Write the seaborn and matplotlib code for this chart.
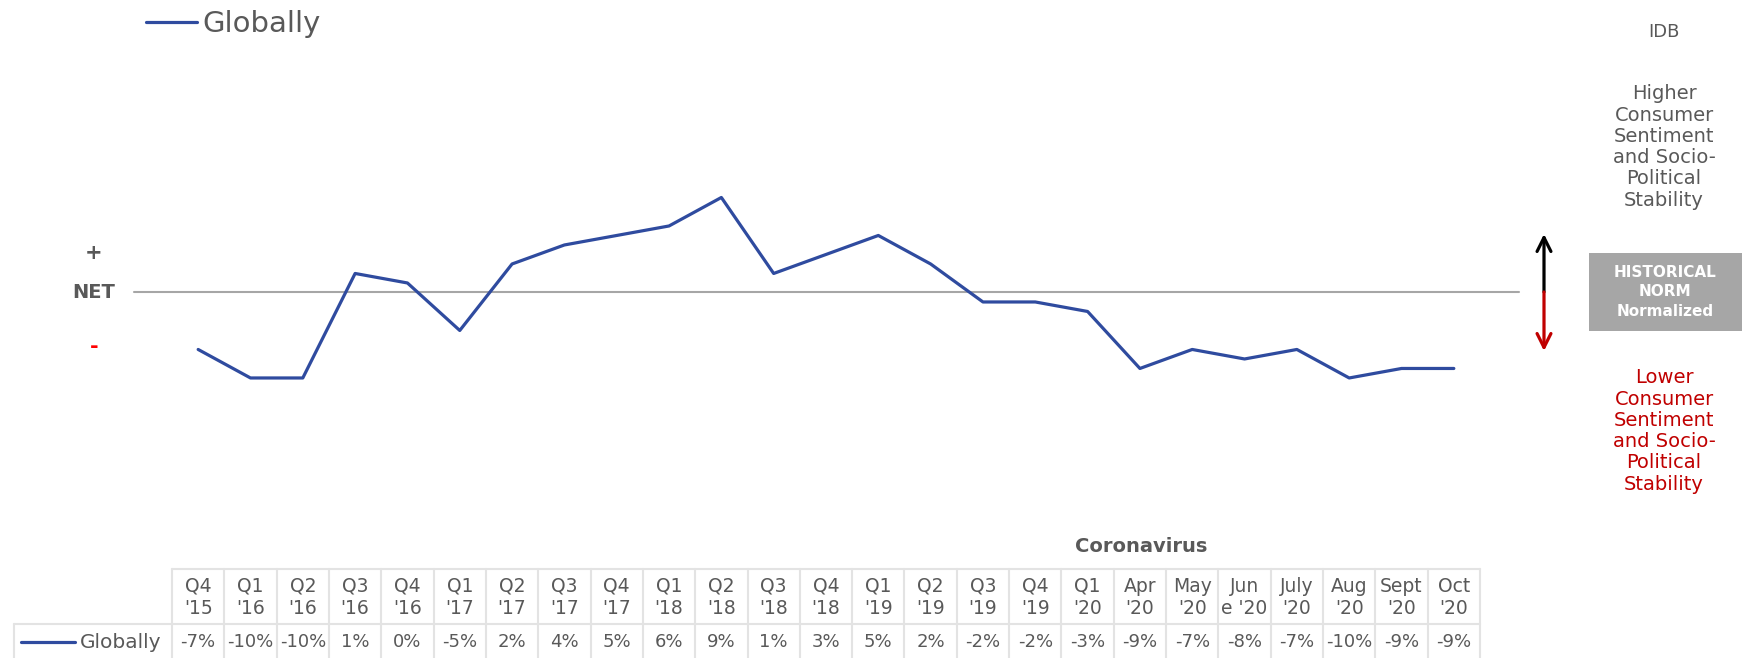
import pandas as pd
import seaborn as sns
import numpy as np
import matplotlib.pyplot as plt
from matplotlib.patches import Rectangle

# data
periods = ["Q4\n'15", "Q1\n'16", "Q2\n'16", "Q3\n'16", "Q4\n'16", "Q1\n'17", "Q2\n'17",
           "Q3\n'17", "Q4\n'17", "Q1\n'18", "Q2\n'18", "Q3\n'18", "Q4\n'18", "Q1\n'19",
           "Q2\n'19", "Q3\n'19", "Q4\n'19", "Q1\n'20", "Apr\n'20", "May\n'20", "Jun\ne '20",
           "July\n'20", "Aug\n'20", "Sept\n'20", "Oct\n'20"]
globally = [-7, -10, -10, 1, 0, -5, 2, 4, 5, 6, 9, 1, 3, 5, 2, -2, -2, -3, -9, -7, -8, -7, -10, -9, -9]
norm_level = -1

df = pd.DataFrame({"pos": np.arange(len(periods)), "Globally": globally})

sns.set_style("white")
plt.rcParams['font.family'] = ['DejaVu Sans']

W, H = 1742, 658
fig = plt.figure(figsize=(W / 100, H / 100), dpi=100)

blue = "#2F4B9F"
grey_txt = "#595959"
red = "#C00000"

# main chart area
ax = fig.add_axes([172 / W, (H - 480) / H, 1308 / W, 380 / H])
sns.lineplot(data=df, x="pos", y="Globally", ax=ax, color=blue, linewidth=2.3, label="Globally")
ax.set_xlim(-0.5, 24.5)
ax.set_ylim(-20.74, 19.26)
ax.axis("off")
ax.get_legend().remove()

# historical norm line
ax.plot([-1.22, 25.24], [norm_level, norm_level], color="#A6A6A6", linewidth=1.5, clip_on=False, zorder=1)

# + / NET / - labels
fig.text(94 / W, 1 - 253 / H, "+", ha="center", va="center", fontsize=15, color=grey_txt, fontweight="bold")
fig.text(94 / W, 1 - 292 / H, "NET", ha="center", va="center", fontsize=14, color=grey_txt, fontweight="bold")
fig.text(94 / W, 1 - 347 / H, "-", ha="center", va="center", fontsize=15, color="red", fontweight="bold")

# top legend
handles, labels = ax.get_lines()[:1], ["Globally"]
fig.legend(handles, labels, loc="upper left", bbox_to_anchor=(146 / W, 1 - 10 / H),
           frameon=False, fontsize=21, handlelength=1.75, handletextpad=0.2,
           borderpad=0, borderaxespad=0, labelcolor=grey_txt)

# right side annotations
xc = 1664 / W
fig.text(xc, 1 - 32 / H, "IDB", ha="center", va="center", fontsize=13, color=grey_txt)
fig.text(xc, 1 - 147 / H, "Higher\nConsumer\nSentiment\nand Socio-\nPolitical\nStability",
         ha="center", va="center", fontsize=14, color=grey_txt, linespacing=1.15)
fig.text(xc, 1 - 431 / H, "Lower\nConsumer\nSentiment\nand Socio-\nPolitical\nStability",
         ha="center", va="center", fontsize=14, color=red, linespacing=1.15)
fig.patches.append(Rectangle((1589 / W, 1 - 331 / H), 153 / W, 78 / H,
                             transform=fig.transFigure, facecolor="#A6A6A6", edgecolor="none"))
fig.text(1665 / W, 1 - 292 / H, "HISTORICAL\nNORM\nNormalized", ha="center", va="center",
         fontsize=11, color="white", fontweight="bold", linespacing=1.4)

# up / down arrows
ax.annotate("", xy=(1544, H - 234), xytext=(1544, H - 292), xycoords="figure pixels",
            arrowprops=dict(arrowstyle="->", color="black", lw=2.3, mutation_scale=25, shrinkA=0, shrinkB=0))
ax.annotate("", xy=(1544, H - 351), xytext=(1544, H - 292), xycoords="figure pixels",
            arrowprops=dict(arrowstyle="->", color=red, lw=2.3, mutation_scale=25, shrinkA=0, shrinkB=0))

# data table
tb = fig.add_axes([172 / W, 0, 1308 / W, 89 / H])
tb.set_xlim(-0.5, 24.5)
tb.set_ylim(89, 0)
tb.axis("off")
edge = "#E3E3E3"
for k in range(len(periods) + 1):
    tb.plot([k - 0.5, k - 0.5], [0, 92], color=edge, linewidth=1.5, clip_on=False)
tb.plot([-0.5, 24.5], [0, 0], color=edge, linewidth=1.5, clip_on=False)
tb.plot([-3.52, 24.5], [55, 55], color=edge, linewidth=1.5, clip_on=False)
tb.plot([-3.52, -3.52], [55, 92], color=edge, linewidth=1.5, clip_on=False)
for i, (p, v) in enumerate(zip(periods, globally)):
    tb.text(i, 28, p, ha="center", va="center", fontsize=13.5, color=grey_txt, linespacing=1.2)
    tb.text(i, 73, f"{v}%", ha="center", va="center", fontsize=13, color=grey_txt)
tb.plot([-3.38, -2.35], [73, 73], color=blue, linewidth=2.3, clip_on=False)
tb.text(-2.27, 73, "Globally", ha="left", va="center", fontsize=14.5, color=grey_txt, clip_on=False)
tb.text(18.03, -23, "Coronavirus", ha="center", va="center", fontsize=14, color=grey_txt,
        fontweight="bold", clip_on=False)

plt.savefig("out.png", dpi=100)
